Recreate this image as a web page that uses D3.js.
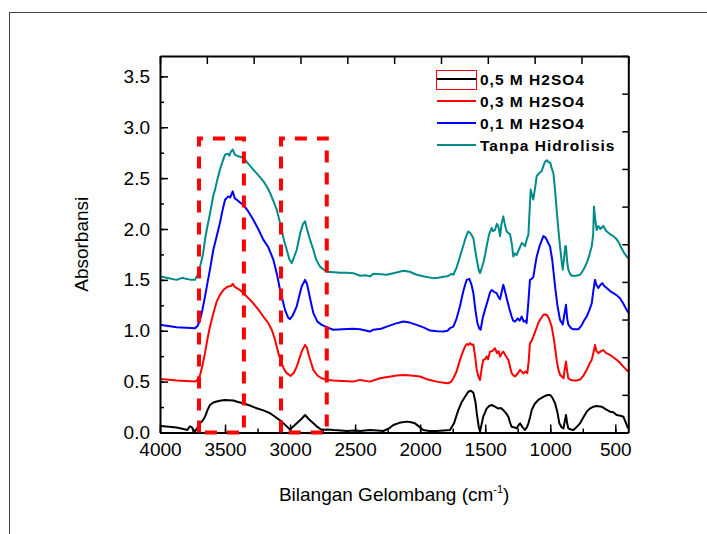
<!DOCTYPE html>
<html>
<head>
<meta charset="utf-8">
<script src="https://cdn.jsdelivr.net/npm/d3@7"></script>
<style>
  body { margin: 0; background: #fff; }
  svg { display: block; font-family: "Liberation Sans", Arial, sans-serif; }
</style>
</head>
<body>
<div id="chart"></div>
<script>
// spectra: [wavenumber, absorbance]
var h2so4_05 = [[4000,0.065],[3950,0.06],[3872,0.05],[3820,0.035],[3790,0.025],[3770,0.06],[3757,0.055],[3745,0.03],[3731,0.01],[3710,0.05],[3692,0.09],[3670,0.12],[3654,0.155],[3635,0.22],[3616,0.27],[3590,0.295],[3564,0.305],[3530,0.315],[3500,0.32],[3470,0.318],[3436,0.314],[3400,0.3],[3360,0.287],[3310,0.265],[3257,0.238],[3200,0.215],[3154,0.189],[3110,0.15],[3065,0.107],[3030,0.065],[3001,0.03],[2975,0.06],[2949,0.09],[2915,0.13],[2885,0.172],[2855,0.13],[2821,0.09],[2790,0.055],[2757,0.025],[2710,0.03],[2667,0.025],[2610,0.02],[2565,0.015],[2500,0.02],[2462,0.015],[2386,0.025],[2330,0.02],[2283,0.015],[2240,0.04],[2206,0.074],[2160,0.095],[2103,0.107],[2070,0.1],[2040,0.09],[2010,0.06],[1976,0.025],[1930,0.015],[1873,0.015],[1820,0.02],[1771,0.025],[1740,0.09],[1707,0.22],[1680,0.3],[1655,0.352],[1630,0.4],[1610,0.41],[1591,0.39],[1575,0.3],[1565,0.19],[1550,0.06],[1540,0.01],[1528,0.08],[1515,0.155],[1489,0.235],[1470,0.26],[1450,0.27],[1425,0.255],[1399,0.235],[1380,0.24],[1361,0.22],[1340,0.19],[1322,0.155],[1310,0.1],[1297,0.057],[1275,0.05],[1258,0.04],[1245,0.07],[1232,0.09],[1212,0.05],[1194,0.025],[1180,0.05],[1168,0.09],[1155,0.15],[1143,0.22],[1120,0.28],[1092,0.32],[1060,0.345],[1040,0.359],[1020,0.368],[1002,0.369],[985,0.345],[963,0.287],[945,0.2],[930,0.09],[912,0.05],[898,0.04],[890,0.1],[879,0.172],[870,0.09],[861,0.04],[840,0.03],[823,0.025],[800,0.05],[771,0.09],[745,0.15],[720,0.205],[695,0.235],[669,0.254],[643,0.26],[605,0.254],[575,0.23],[541,0.205],[515,0.2],[490,0.172],[460,0.165],[438,0.155],[420,0.1],[408,0.06],[400,0.04]];

var h2so4_03 = [[4000,0.525],[3950,0.52],[3872,0.51],[3800,0.505],[3731,0.5],[3710,0.52],[3692,0.566],[3675,0.65],[3654,0.78],[3635,0.92],[3616,1.04],[3590,1.17],[3564,1.287],[3540,1.35],[3513,1.4],[3490,1.425],[3475,1.435],[3455,1.44],[3441,1.46],[3425,1.43],[3410,1.42],[3385,1.4],[3360,1.37],[3320,1.32],[3283,1.27],[3245,1.21],[3206,1.14],[3170,1.08],[3141,1.01],[3120,0.93],[3103,0.845],[3085,0.76],[3065,0.68],[3045,0.62],[3026,0.583],[2995,0.556],[2970,0.59],[2949,0.648],[2930,0.72],[2911,0.795],[2885,0.861],[2870,0.83],[2860,0.78],[2840,0.69],[2821,0.615],[2790,0.56],[2757,0.533],[2710,0.515],[2667,0.51],[2600,0.505],[2514,0.5],[2462,0.517],[2386,0.5],[2309,0.533],[2250,0.545],[2180,0.56],[2129,0.566],[2070,0.56],[2001,0.55],[1940,0.52],[1873,0.5],[1820,0.49],[1784,0.484],[1760,0.5],[1745,0.533],[1720,0.6],[1694,0.714],[1670,0.8],[1655,0.845],[1640,0.87],[1630,0.86],[1617,0.878],[1600,0.86],[1591,0.865],[1578,0.75],[1565,0.615],[1550,0.54],[1540,0.517],[1528,0.62],[1515,0.714],[1500,0.72],[1489,0.746],[1478,0.72],[1463,0.795],[1445,0.8],[1425,0.828],[1410,0.78],[1398,0.8],[1386,0.746],[1372,0.78],[1361,0.795],[1340,0.75],[1322,0.714],[1310,0.65],[1297,0.583],[1282,0.56],[1271,0.55],[1250,0.58],[1232,0.615],[1220,0.6],[1207,0.58],[1190,0.6],[1176,0.583],[1166,0.7],[1156,0.878],[1143,0.9],[1130,0.943],[1110,1.01],[1092,1.075],[1072,1.12],[1053,1.157],[1040,1.16],[1027,1.157],[1010,1.12],[989,1.04],[970,0.9],[951,0.714],[938,0.62],[925,0.566],[910,0.55],[898,0.533],[889,0.62],[879,0.697],[870,0.6],[861,0.533],[840,0.515],[823,0.51],[800,0.51],[771,0.52],[745,0.56],[720,0.615],[700,0.67],[681,0.714],[665,0.8],[656,0.861],[645,0.8],[630,0.78],[610,0.8],[592,0.81],[570,0.78],[541,0.763],[515,0.74],[490,0.714],[460,0.68],[440,0.65],[413,0.615],[400,0.6]];

var h2so4_01 = [[4000,1.058],[3950,1.05],[3872,1.035],[3800,1.03],[3731,1.025],[3710,1.05],[3692,1.107],[3675,1.2],[3654,1.337],[3635,1.47],[3616,1.6],[3590,1.796],[3577,1.862],[3560,1.95],[3539,2.06],[3520,2.18],[3500,2.288],[3475,2.32],[3460,2.31],[3441,2.37],[3425,2.3],[3410,2.288],[3385,2.26],[3360,2.24],[3320,2.17],[3283,2.09],[3245,2.0],[3206,1.895],[3167,1.82],[3129,1.7],[3100,1.55],[3077,1.4],[3055,1.29],[3039,1.205],[3015,1.13],[3001,1.114],[2980,1.15],[2949,1.24],[2930,1.34],[2911,1.435],[2885,1.5],[2870,1.46],[2860,1.4],[2840,1.28],[2821,1.173],[2790,1.09],[2757,1.058],[2710,1.03],[2667,1.01],[2600,1.015],[2514,1.02],[2462,1.015],[2386,0.992],[2360,1.01],[2300,1.02],[2257,1.04],[2190,1.07],[2129,1.09],[2080,1.08],[2027,1.058],[1970,1.03],[1924,1.002],[1870,0.995],[1822,0.992],[1790,1.0],[1771,1.025],[1745,1.04],[1720,1.12],[1694,1.24],[1670,1.38],[1655,1.45],[1642,1.5],[1622,1.51],[1605,1.45],[1591,1.37],[1575,1.2],[1560,1.075],[1545,1.02],[1535,1.01],[1520,1.12],[1502,1.205],[1480,1.3],[1462,1.38],[1450,1.4],[1430,1.38],[1412,1.37],[1398,1.33],[1386,1.31],[1370,1.4],[1361,1.452],[1350,1.4],[1335,1.32],[1315,1.22],[1297,1.14],[1285,1.1],[1271,1.09],[1250,1.12],[1235,1.1],[1219,1.14],[1205,1.09],[1190,1.1],[1182,1.075],[1170,1.25],[1156,1.5],[1143,1.51],[1130,1.53],[1115,1.65],[1104,1.73],[1080,1.84],[1053,1.93],[1040,1.92],[1027,1.895],[1015,1.86],[1002,1.83],[985,1.7],[963,1.435],[945,1.25],[925,1.107],[912,1.08],[904,1.06],[893,1.15],[879,1.255],[870,1.12],[861,1.06],[840,1.025],[823,1.015],[800,1.015],[784,1.015],[760,1.05],[740,1.1],[720,1.14],[700,1.2],[681,1.27],[668,1.4],[656,1.5],[645,1.45],[630,1.42],[615,1.45],[600,1.468],[585,1.44],[566,1.42],[540,1.39],[515,1.37],[490,1.35],[464,1.32],[440,1.27],[413,1.205],[400,1.18]];

var tanpa = [[4000,1.534],[3950,1.52],[3872,1.5],[3830,1.52],[3800,1.51],[3760,1.5],[3731,1.5],[3710,1.55],[3692,1.63],[3670,1.75],[3654,1.895],[3641,1.99],[3616,2.15],[3590,2.33],[3577,2.387],[3560,2.48],[3539,2.584],[3520,2.66],[3500,2.73],[3480,2.74],[3467,2.72],[3455,2.76],[3441,2.78],[3425,2.73],[3410,2.72],[3385,2.71],[3360,2.7],[3320,2.64],[3283,2.584],[3245,2.53],[3206,2.47],[3180,2.42],[3154,2.354],[3130,2.28],[3103,2.19],[3085,2.1],[3065,1.99],[3045,1.88],[3026,1.796],[3005,1.7],[2988,1.665],[2970,1.72],[2949,1.796],[2920,1.97],[2900,2.05],[2885,2.075],[2870,2.0],[2847,1.895],[2821,1.796],[2800,1.7],[2770,1.63],[2740,1.6],[2718,1.58],[2660,1.575],[2616,1.57],[2560,1.57],[2514,1.566],[2462,1.54],[2420,1.545],[2386,1.534],[2360,1.56],[2300,1.555],[2257,1.55],[2190,1.57],[2129,1.59],[2080,1.58],[2027,1.55],[1960,1.53],[1899,1.517],[1860,1.52],[1822,1.53],[1790,1.535],[1758,1.56],[1745,1.55],[1720,1.62],[1694,1.73],[1670,1.83],[1655,1.895],[1640,1.95],[1630,1.976],[1615,1.96],[1600,1.93],[1591,1.91],[1578,1.8],[1565,1.7],[1550,1.6],[1540,1.567],[1528,1.61],[1515,1.665],[1500,1.75],[1489,1.83],[1470,1.95],[1450,2.01],[1440,1.98],[1425,1.99],[1410,2.05],[1399,2.026],[1386,1.93],[1375,2.05],[1361,2.124],[1350,2.05],[1335,1.976],[1322,1.96],[1309,1.95],[1295,1.85],[1284,1.73],[1270,1.76],[1258,1.745],[1240,1.8],[1219,1.862],[1205,1.85],[1194,1.83],[1180,1.9],[1168,1.944],[1158,2.2],[1150,2.387],[1140,2.33],[1130,2.29],[1115,2.42],[1104,2.52],[1085,2.55],[1066,2.567],[1050,2.63],[1040,2.66],[1027,2.675],[1015,2.66],[1000,2.65],[990,2.6],[976,2.55],[963,2.38],[951,2.19],[938,2.0],[925,1.83],[912,1.68],[904,1.6],[893,1.72],[885,1.83],[879,1.83],[870,1.68],[861,1.6],[848,1.56],[835,1.54],[800,1.54],[771,1.55],[745,1.6],[720,1.665],[700,1.74],[681,1.83],[670,1.95],[664,2.22],[655,2.1],[643,1.99],[630,2.03],[615,2.0],[592,2.03],[570,1.98],[541,1.95],[515,1.93],[490,1.9],[470,1.86],[452,1.81],[430,1.76],[413,1.73],[400,1.71]];

var seriesNames = ["0,5 M H2SO4", "0,3 M H2SO4", "0,1 M H2SO4", "Tanpa Hidrolisis"];
var seriesColors = ["#000000", "#ff0000", "#0000ff", "#008b8b"];
var seriesData = [h2so4_05, h2so4_03, h2so4_01, tanpa];

// dashed boxes marking the O-H and C-H bands [from, to, height]
var bands = [[3700, 3355, 2.89], [3070, 2718, 2.89]];

var xTicks = [4000, 3500, 3000, 2500, 2000, 1500, 1000, 500];
var yTicks = [0, 0.5, 1.0, 1.5, 2.0, 2.5, 3.0, 3.5];

var W = 707, H = 534;
var plotL = 160, plotR = 628.3, plotT = 56, plotB = 432.5;

var svg = d3.select("#chart").append("svg")
  .attr("width", W)
  .attr("height", H);

// outer frame (only its top and left edges show)
svg.append("rect")
  .attr("x", 9.5).attr("y", 12.5)
  .attr("width", 720).attr("height", 540)
  .attr("fill", "none")
  .attr("stroke", "#444")
  .attr("stroke-width", 1);

var x = d3.scaleLinear().domain([4000, 400]).range([plotL, plotR]);
var y = d3.scaleLinear().domain([0, 3.7]).range([plotB, plotT]);

// curves
var line = d3.line()
  .x(function(d) { return x(d[0]); })
  .y(function(d) { return y(d[1]); });

svg.append("g")
  .selectAll("path")
  .data(seriesData)
  .enter()
  .append("path")
    .attr("d", line)
    .attr("fill", "none")
    .attr("stroke", function(d, i) { return seriesColors[i]; })
    .attr("stroke-width", 2)
    .attr("stroke-linejoin", "round");

// minor ticks
var minorX = d3.range(4000, 400, -250);
var minorY = d3.range(0, 3.71, 0.25);

svg.append("g")
  .attr("transform", "translate(0," + plotB + ")")
  .call(d3.axisBottom(x).tickValues(minorX).tickSizeInner(-4).tickSizeOuter(0).tickFormat(""))
  .call(function(g) { g.select(".domain").remove(); });

svg.append("g")
  .attr("transform", "translate(" + plotL + ",0)")
  .call(d3.axisLeft(y).tickValues(minorY).tickSizeInner(-4).tickSizeOuter(0).tickFormat(""))
  .call(function(g) { g.select(".domain").remove(); });

// top and right axes: ten equal divisions
var topTicks = d3.range(0, 11).map(function(i) { return 4000 - i * 360; });
var rightTicks = d3.range(0, 11).map(function(i) { return i * 0.37; });

svg.append("g")
  .attr("transform", "translate(0," + plotT + ")")
  .call(d3.axisTop(x).tickValues(topTicks).tickSizeInner(-8).tickSizeOuter(0).tickFormat(""));

svg.append("g")
  .attr("transform", "translate(" + plotR + ",0)")
  .call(d3.axisRight(y).tickValues(rightTicks).tickSizeInner(-6).tickSizeOuter(0).tickFormat(""));

// main axes with labels
svg.append("g")
  .attr("transform", "translate(0," + plotB + ")")
  .call(d3.axisBottom(x).tickValues(xTicks).tickSizeInner(-8).tickSizeOuter(0).tickPadding(10).tickFormat(d3.format("d")));

svg.append("g")
  .attr("transform", "translate(" + plotL + ",0)")
  .call(d3.axisLeft(y).tickValues(yTicks).tickSizeInner(-8).tickSizeOuter(0).tickPadding(10).tickFormat(d3.format(".1f")));

svg.selectAll(".domain").attr("stroke-width", 2).attr("stroke", "#000");
svg.selectAll(".tick line").attr("stroke-width", 1.5).attr("stroke", "#000");
svg.selectAll(".tick text")
  .attr("font-family", "Liberation Sans, Arial, sans-serif")
  .attr("font-size", "19px")
  .attr("fill", "#000");

// dashed band boxes
svg.append("g")
  .selectAll("path")
  .data(bands)
  .enter()
  .append("path")
    .attr("d", function(d) {
      return "M" + x(d[0]) + "," + y(0) + "V" + y(d[2]) + "H" + x(d[1]) + "V" + y(0) + "H" + x(d[0]);
    })
    .attr("fill", "none")
    .attr("stroke", "#ff0000")
    .attr("stroke-width", 4)
    .attr("stroke-dasharray", "12,10");

// axis titles
var xTitle = svg.append("text")
  .attr("x", (plotL + plotR) / 2)
  .attr("y", 501)
  .attr("text-anchor", "middle")
  .attr("font-size", "19px");
xTitle.append("tspan").text("Bilangan Gelombang (cm");
xTitle.append("tspan").attr("dy", -8).attr("font-size", "11px").text("-1");
xTitle.append("tspan").attr("dy", 8).text(")");

svg.append("text")
  .attr("transform", "translate(88," + (plotT + plotB) / 2 + ") rotate(-90)")
  .attr("text-anchor", "middle")
  .attr("font-size", "19px")
  .text("Absorbansi");

// legend
var legend = svg.append("g");
var rowY = [79, 101, 123, 145];

legend.selectAll("line")
  .data(seriesNames)
  .enter()
  .append("line")
    .attr("x1", 437).attr("x2", 476)
    .attr("y1", function(d, i) { return rowY[i]; })
    .attr("y2", function(d, i) { return rowY[i]; })
    .attr("stroke", function(d, i) { return seriesColors[i]; })
    .attr("stroke-width", 2);

legend.selectAll("text")
  .data(seriesNames)
  .enter()
  .append("text")
    .attr("x", 480)
    .attr("y", function(d, i) { return rowY[i]; })
    .attr("dy", "0.36em")
    .attr("font-size", "15.5px")
    .attr("font-weight", "bold")
    .attr("letter-spacing", "1px")
    .text(function(d) { return d; });

// selection box round the first legend symbol
legend.append("rect")
  .attr("x", 436.5).attr("y", 70.5)
  .attr("width", 40).attr("height", 19)
  .attr("fill", "none")
  .attr("stroke", "#ff0000")
  .attr("stroke-width", 1);
</script>
</body>
</html>
